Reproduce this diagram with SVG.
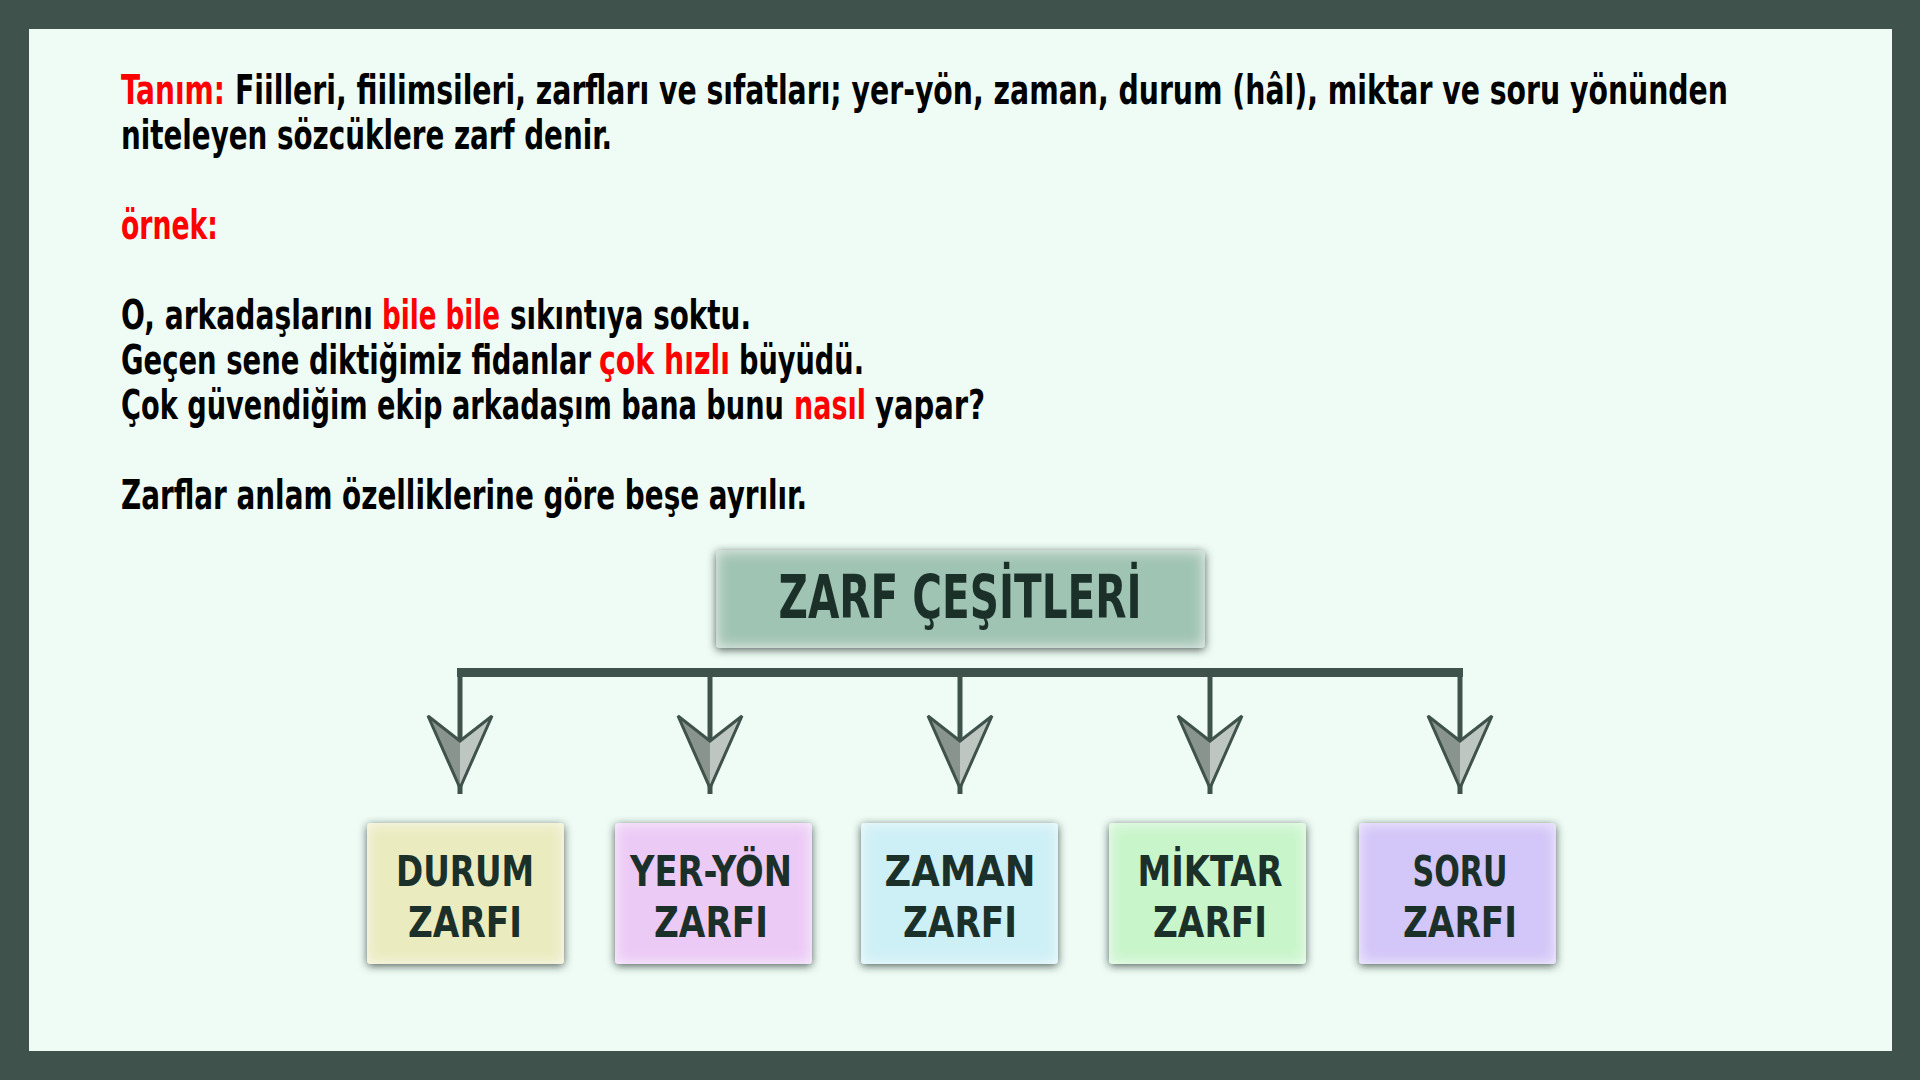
<svg xmlns="http://www.w3.org/2000/svg" width="1920" height="1080" viewBox="0 0 1920 1080">
<style>
.body{font-family:"Liberation Sans Narrow","DejaVu Sans Condensed","Liberation Sans",sans-serif;font-weight:bold;font-size:40px;fill:#000}
.red{fill:#ff0000}
.lbl{font-family:"Liberation Sans Narrow","DejaVu Sans Condensed","Liberation Sans",sans-serif;font-weight:bold;font-size:43px;fill:#1c302a;text-anchor:middle}
.head{font-size:60px}
.box{filter:url(#boxfx)}
.conn{stroke:#3f524c;fill:none}
.ahL{fill:#8a948f}
.ahR{fill:#bec6c2}
.ahO{fill:none;stroke:#3f524c;stroke-width:3;stroke-linejoin:miter}
</style>
<defs>
<filter id="boxfx" x="-15%" y="-30%" width="130%" height="160%">
  <feGaussianBlur in="SourceAlpha" stdDeviation="4" result="sb"/>
  <feOffset in="sb" dy="2" result="so"/>
  <feFlood flood-color="#1e2e28" flood-opacity="0.75" result="sc"/>
  <feComposite in="sc" in2="so" operator="in" result="shadow"/>
  <feFlood flood-color="#ffffff" flood-opacity="0.7" result="w"/>
  <feComposite in="w" in2="SourceAlpha" operator="out" result="wout"/>
  <feGaussianBlur in="wout" stdDeviation="7" result="wb"/>
  <feComposite in="wb" in2="SourceAlpha" operator="in" result="glow"/>
  <feMerge><feMergeNode in="shadow"/><feMergeNode in="SourceGraphic"/><feMergeNode in="glow"/></feMerge>
</filter>
<g id="arrowhead">
  <polygon class="ahL" points="-32,716 0,741 0,788"/>
  <polygon class="ahR" points="32,716 0,741 0,788"/>
  <polygon class="ahO" points="-32,716 0,741 32,716 0,788"/>
</g>
</defs>

<rect x="0" y="0" width="1920" height="1080" fill="#3f524c"/>
<rect x="29" y="29" width="1863" height="1022" fill="#effcf5"/>

<g id="text-block" transform="scale(0.75,1)">
  <text class="body red" x="161.33" y="104" textLength="138.67" lengthAdjust="spacingAndGlyphs">Tanım:</text>
  <text class="body" x="313.33" y="104" textLength="1990.67" lengthAdjust="spacingAndGlyphs">Fiilleri, fiilimsileri, zarfları ve sıfatları; yer-yön, zaman, durum (hâl), miktar ve soru yönünden</text>
  <text class="body" x="161.33" y="149" textLength="654.67" lengthAdjust="spacingAndGlyphs">niteleyen sözcüklere zarf denir.</text>
  <text class="body red" x="161.33" y="239" textLength="129.33" lengthAdjust="spacingAndGlyphs">örnek:</text>

  <text class="body" x="161.33" y="329" textLength="336" lengthAdjust="spacingAndGlyphs">O, arkadaşlarını</text>
  <text class="body red" x="509.33" y="329" textLength="157.33" lengthAdjust="spacingAndGlyphs">bile bile</text>
  <text class="body" x="680" y="329" textLength="321.33" lengthAdjust="spacingAndGlyphs">sıkıntıya soktu.</text>

  <text class="body" x="161.33" y="374" textLength="626.67" lengthAdjust="spacingAndGlyphs">Geçen sene diktiğimiz fidanlar</text>
  <text class="body red" x="798.67" y="374" textLength="174.67" lengthAdjust="spacingAndGlyphs">çok hızlı</text>
  <text class="body" x="985.33" y="374" textLength="166.67" lengthAdjust="spacingAndGlyphs">büyüdü.</text>

  <text class="body" x="161.33" y="419" textLength="884" lengthAdjust="spacingAndGlyphs">Çok güvendiğim ekip arkadaşım bana bunu</text>
  <text class="body red" x="1058.67" y="419" textLength="96" lengthAdjust="spacingAndGlyphs">nasıl</text>
  <text class="body" x="1166.67" y="419" textLength="146.67" lengthAdjust="spacingAndGlyphs">yapar?</text>

  <text class="body" x="161.33" y="509" textLength="914.67" lengthAdjust="spacingAndGlyphs">Zarflar anlam özelliklerine göre beşe ayrılır.</text>
</g>

<g id="connectors">
  <rect x="457" y="668" width="1006" height="9" fill="#3f524c"/>
  <g class="conn" stroke-width="5">
    <line x1="460" y1="672" x2="460" y2="794"/>
    <line x1="710" y1="672" x2="710" y2="794"/>
    <line x1="960" y1="672" x2="960" y2="794"/>
    <line x1="1210" y1="672" x2="1210" y2="794"/>
    <line x1="1460" y1="672" x2="1460" y2="794"/>
  </g>
  <use href="#arrowhead" x="460"/>
  <use href="#arrowhead" x="710"/>
  <use href="#arrowhead" x="960"/>
  <use href="#arrowhead" x="1210"/>
  <use href="#arrowhead" x="1460"/>
</g>

<g id="node-zarf-cesitleri">
  <rect class="box" x="716" y="550" width="489" height="98" rx="4" fill="#a0c4b4"/>
  <text class="lbl head" x="960" y="618" textLength="363" lengthAdjust="spacingAndGlyphs">ZARF ÇEŞİTLERİ</text>
</g>

<g id="node-durum">
  <rect class="box" x="367" y="823" width="197" height="141" rx="4" fill="#ebebc0"/>
  <text class="lbl" x="465" y="886" textLength="138" lengthAdjust="spacingAndGlyphs">DURUM</text>
  <text class="lbl" x="465" y="937" textLength="114" lengthAdjust="spacingAndGlyphs">ZARFI</text>
</g>

<g id="node-yer-yon">
  <rect class="box" x="615" y="823" width="197" height="141" rx="4" fill="#eccaf6"/>
  <text class="lbl" x="711" y="886" textLength="162" lengthAdjust="spacingAndGlyphs">YER-YÖN</text>
  <text class="lbl" x="711" y="937" textLength="114" lengthAdjust="spacingAndGlyphs">ZARFI</text>
</g>

<g id="node-zaman">
  <rect class="box" x="861" y="823" width="197" height="141" rx="4" fill="#cdf0f6"/>
  <text class="lbl" x="960" y="886" textLength="151" lengthAdjust="spacingAndGlyphs">ZAMAN</text>
  <text class="lbl" x="960" y="937" textLength="114" lengthAdjust="spacingAndGlyphs">ZARFI</text>
</g>

<g id="node-miktar">
  <rect class="box" x="1109" y="823" width="197" height="141" rx="4" fill="#c9f5cb"/>
  <text class="lbl" x="1210" y="886" textLength="145" lengthAdjust="spacingAndGlyphs">MİKTAR</text>
  <text class="lbl" x="1210" y="937" textLength="114" lengthAdjust="spacingAndGlyphs">ZARFI</text>
</g>

<g id="node-soru">
  <rect class="box" x="1359" y="823" width="197" height="141" rx="4" fill="#d3c6f8"/>
  <text class="lbl" x="1460" y="886" textLength="95" lengthAdjust="spacingAndGlyphs">SORU</text>
  <text class="lbl" x="1460" y="937" textLength="114" lengthAdjust="spacingAndGlyphs">ZARFI</text>
</g>
</svg>
